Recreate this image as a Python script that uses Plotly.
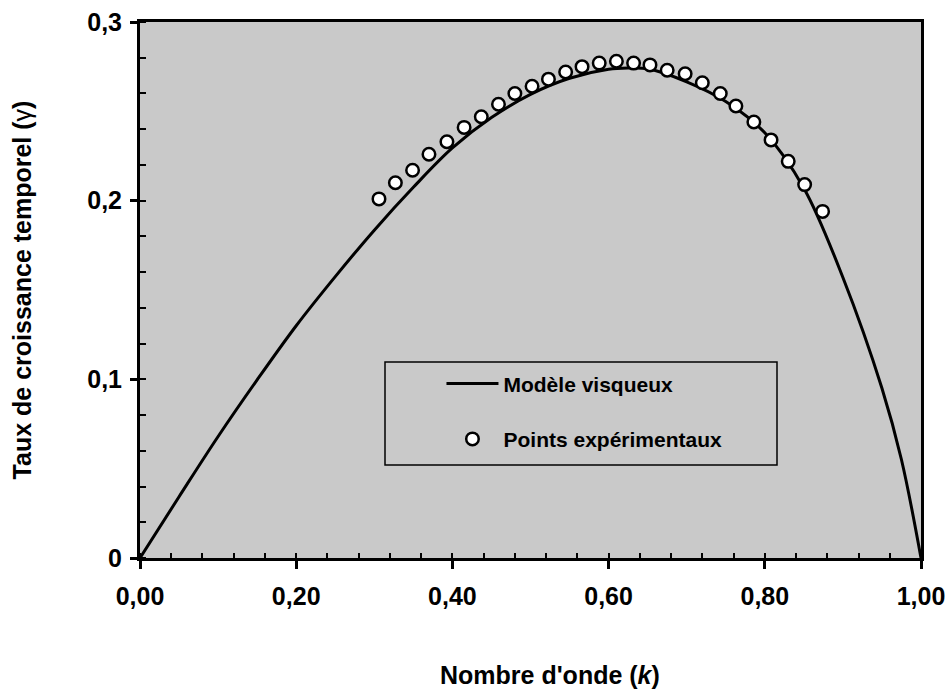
import plotly.graph_objects as go

# ---- data ----
model_k = [0.0, 0.05, 0.10, 0.15, 0.20, 0.25, 0.30, 0.35, 0.40, 0.45, 0.50,
           0.55, 0.60, 0.625, 0.65, 0.70, 0.75, 0.80, 0.85, 0.90, 0.95,
           0.975, 1.00]
model_gamma = [0.0, 0.0343, 0.068, 0.0997, 0.130, 0.1575, 0.1835, 0.2075,
               0.2295, 0.2465, 0.2595, 0.2685, 0.2735, 0.2742, 0.2738,
               0.2665, 0.2555, 0.238, 0.207, 0.157, 0.095, 0.055, 0.0]

exp_k = [0.306, 0.327, 0.349, 0.370, 0.393, 0.415, 0.437, 0.459, 0.480,
         0.502, 0.523, 0.545, 0.566, 0.588, 0.610, 0.632, 0.653, 0.675,
         0.698, 0.720, 0.743, 0.763, 0.786, 0.808, 0.830, 0.851, 0.874]
exp_gamma = [0.201, 0.210, 0.217, 0.226, 0.233, 0.241, 0.247, 0.254, 0.260,
             0.264, 0.268, 0.272, 0.275, 0.277, 0.278, 0.277, 0.276, 0.273,
             0.271, 0.266, 0.260, 0.253, 0.244, 0.234, 0.222, 0.209, 0.194]

x_tickvals = [0.0, 0.2, 0.4, 0.6, 0.8, 1.0]
x_ticktext = ["0,00", "0,20", "0,40", "0,60", "0,80", "1,00"]
y_tickvals = [0.0, 0.1, 0.2, 0.3]
y_ticktext = ["0", "0,1", "0,2", "0,3"]

FONT = "Liberation Sans, Arial, Helvetica, sans-serif"
BG = "#c9c9c9"

fig = go.Figure()
fig.add_trace(go.Scatter(
    x=model_k, y=model_gamma, mode="lines", name="Modèle visqueux",
    line=dict(color="black", width=3, shape="spline", smoothing=1.0),
    legendgroup="a"))
fig.add_trace(go.Scatter(
    x=exp_k, y=exp_gamma, mode="markers", name="Points expérimentaux",
    marker=dict(symbol="circle", size=12.5, color="white",
                line=dict(color="black", width=2.5)),
    legendgroup="b"))

axis_common = dict(showgrid=False, zeroline=False, showline=True,
                   linecolor="black", linewidth=3, mirror=True,
                   automargin=False,
                   tickfont=dict(family=FONT, size=25, color="black", weight="bold"))

fig.update_layout(
    width=952, height=698,
    margin=dict(l=140, r=31, t=22, b=140, autoexpand=False),
    paper_bgcolor="white", plot_bgcolor=BG,
    font=dict(family=FONT, color="black"),
    xaxis=dict(range=[0, 1], tickvals=x_tickvals, ticktext=x_ticktext,
               ticks="outside", ticklen=8, tickwidth=2.5, tickcolor="black",
               ticklabelstandoff=6,
               minor=dict(ticks="inside", dtick=0.04, tick0=0, ticklen=5,
                          tickwidth=2, tickcolor="black"),
               **axis_common),
    yaxis=dict(range=[0, 0.3], tickvals=y_tickvals, ticktext=y_ticktext,
               ticks="outside", ticklen=7, tickwidth=2.5, tickcolor="black",
               ticklabelstandoff=3,
               minor=dict(ticks="inside", dtick=0.02, tick0=0, ticklen=6,
                          tickwidth=2, tickcolor="black"),
               title=dict(text="<b>Taux de croissance temporel (</b>γ<b>)</b>",
                          font=dict(family=FONT, size=25, color="black"),
                          standoff=49),
               **axis_common),
    xaxis2=dict(overlaying="x", matches="x", anchor="y", range=[0, 1],
                tickvals=x_tickvals, showticklabels=False, ticks="inside",
                ticklen=9, tickwidth=2.5, tickcolor="black", automargin=False,
                showgrid=False, zeroline=False, showline=False),
    yaxis2=dict(overlaying="y", matches="y", anchor="x", range=[0, 0.3],
                tickvals=y_tickvals, showticklabels=False, ticks="inside",
                ticklen=10, tickwidth=2.5, tickcolor="black", automargin=False,
                showgrid=False, zeroline=False, showline=False),
    showlegend=True,
    legend=dict(x=0.386, y=0.363, xanchor="left", yanchor="top",
                bgcolor="rgba(0,0,0,0)", borderwidth=0, itemwidth=52,
                traceorder="grouped", tracegroupgap=25,
                font=dict(family=FONT, size=21, color="black", weight="bold")),
    annotations=[dict(text="<b>Nombre d'onde (<i>k</i>)</b>", xref="paper",
                      yref="paper", x=(550 - 140) / 781, y=(558 - 675) / 536,
                      xanchor="center", yanchor="middle", showarrow=False,
                      font=dict(family=FONT, size=25, color="black"))],
    shapes=[dict(type="rect", xref="paper", yref="paper",
                 x0=(385 - 140) / 781, x1=(777 - 140) / 781,
                 y0=(558 - 465) / 536, y1=(558 - 362) / 536,
                 line=dict(color="black", width=1.5), fillcolor=BG,
                 layer="below")],
)

# remove the browser's default 8 px page margin so the figure sits at (0, 0)
fig.write_html("out.html",
               config={"displayModeBar": False},
               post_script="document.body.style.margin='0px';")
